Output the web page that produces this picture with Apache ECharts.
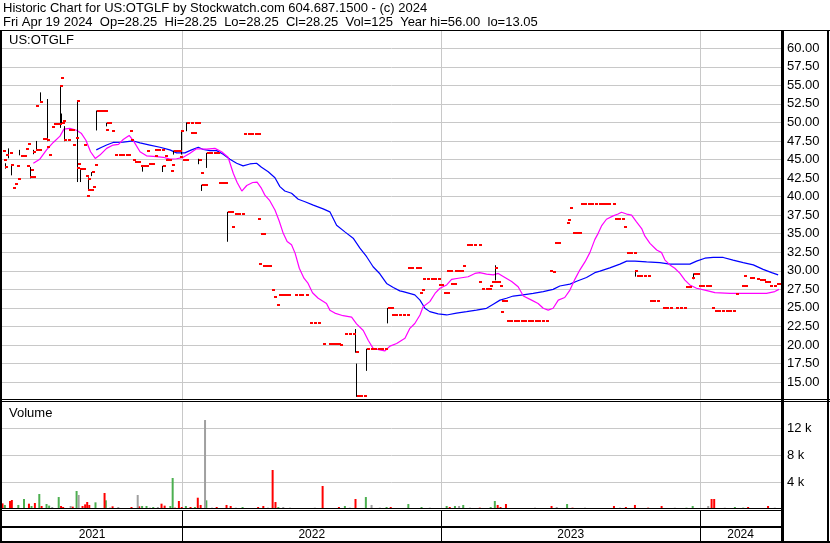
<!DOCTYPE html>
<html><head><meta charset="utf-8">
<script src="https://cdn.jsdelivr.net/npm/echarts@6/dist/echarts.min.js"></script>
<style>html,body{margin:0;padding:0;background:#fff}#c{width:830px;height:543px}</style>
</head><body><div id="c"></div>
<script>
// ---------- texts ----------
const titleLine1 = 'Historic Chart for US:OTGLF by Stockwatch.com 604.687.1500 - (c) 2024';
const titleLine2 = 'Fri Apr 19 2024  Op=28.25  Hi=28.25  Lo=28.25  Cl=28.25  Vol=125  Year hi=56.00  lo=13.05';
const symbolLabel = 'US:OTGLF';
const volumeLabel = 'Volume';
// ---------- axes (x in decimal years) ----------
const yearLabels = ['2021', '2022', '2023', '2024'];
const yearStarts = [2021, 2022, 2023, 2024];
const xStart = 2021.304, xEnd = 2024.312;
const priceTicks = [15, 17.5, 20, 22.5, 25, 27.5, 30, 32.5, 35, 37.5, 40, 42.5, 45, 47.5, 50, 52.5, 55, 57.5, 60];
const priceMin = 12.59, priceMax = 62.32;
const volumeTicks = [4, 8, 12]; // thousands
const volumeMax = 15.91;
// ---------- daily closes [year, close] ----------
const closes = [
[2021.306,46.15],[2021.311,44.9],[2021.315,44.0],[2021.321,45.65],[2021.333,45.9],[2021.340,44.25],[2021.348,41.1],[2021.354,41.7],
[2021.362,44.1],[2021.367,42.4],[2021.377,45.5],[2021.389,45.5],[2021.396,46.45],[2021.400,44.1],[2021.404,47.1],[2021.414,42.6],
[2021.416,43.6],[2021.423,42.6],[2021.425,46.05],[2021.435,52.25],[2021.437,46.3],[2021.447,46.3],[2021.452,52.8],[2021.462,47.75],
[2021.470,47.75],[2021.477,46.7],[2021.479,47.6],[2021.487,45.65],[2021.496,49.4],[2021.503,49.75],[2021.514,49.75],[2021.524,49.75],
[2021.528,54.95],[2021.530,56.0],[2021.535,49.95],[2021.541,50.2],[2021.545,47.6],[2021.557,47.6],[2021.564,48.95],[2021.576,48.95],
[2021.580,47.0],[2021.589,47.95],[2021.592,43.9],[2021.595,52.9],[2021.599,44.4],[2021.607,43.75],[2021.616,43.75],[2021.620,47.0],
[2021.628,42.8],[2021.632,40.1],[2021.636,42.4],[2021.638,40.9],[2021.647,40.9],[2021.650,43.3],[2021.657,41.35],[2021.665,44.25],
[2021.670,51.6],[2021.682,51.6],[2021.694,51.6],[2021.703,51.6],[2021.705,48.95],[2021.709,49.95],[2021.719,49.95],[2021.728,48.85],
[2021.740,45.65],[2021.754,45.65],[2021.767,45.65],[2021.781,45.65],[2021.792,45.65],[2021.797,48.85],[2021.802,47.6],[2021.810,45.0],
[2021.819,44.7],[2021.831,44.7],[2021.840,44.1],[2021.852,44.1],[2021.860,44.1],[2021.865,46.2],[2021.873,44.4],[2021.885,44.4],
[2021.894,45.5],[2021.896,46.3],[2021.908,46.3],[2021.920,46.3],[2021.925,44.15],[2021.932,45.5],[2021.939,44.9],[2021.950,44.9],
[2021.956,43.5],[2021.960,44.25],[2021.967,46.2],[2021.977,46.2],[2021.986,46.2],[2021.991,45.3],[2021.997,48.9],[2022.003,44.9],
[2022.014,44.9],[2022.018,49.95],[2022.032,49.95],[2022.035,48.6],[2022.047,48.6],[2022.051,49.95],[2022.062,49.95],[2022.064,44.9],
[2022.071,43.15],[2022.076,41.6],[2022.087,41.6],[2022.095,45.9],[2022.107,45.9],[2022.122,45.9],[2022.134,45.9],[2022.140,41.9],
[2022.153,41.9],[2022.165,41.9],[2022.176,37.95],[2022.188,37.95],[2022.194,35.9],[2022.203,37.65],[2022.217,37.65],[2022.230,37.65],
[2022.240,48.5],[2022.254,48.5],[2022.267,48.5],[2022.281,48.5],[2022.292,48.5],[2022.293,37.0],[2022.297,30.9],[2022.304,34.95],
[2022.313,34.95],[2022.313,30.65],[2022.325,30.65],[2022.335,30.65],[2022.346,27.4],[2022.354,26.5],[2022.367,25.45],[2022.375,26.8],
[2022.387,26.8],[2022.398,26.8],[2022.408,26.8],[2022.435,26.8],[2022.449,26.8],[2022.460,26.8],[2022.478,26.8],[2022.493,23.0],
[2022.508,23.0],[2022.526,23.0],[2022.543,20.2],[2022.568,20.2],[2022.580,20.2],[2022.591,20.2],[2022.601,20.2],[2022.609,20.0],
[2022.630,21.5],[2022.642,21.5],[2022.659,21.5],[2022.669,19.1],[2022.674,13.15],[2022.688,13.15],[2022.701,13.15],[2022.713,19.5],
[2022.727,19.5],[2022.740,19.5],[2022.754,19.5],[2022.767,19.5],[2022.781,19.5],[2022.794,25.0],[2022.806,25.0],[2022.809,24.1],
[2022.823,24.1],[2022.836,24.1],[2022.852,24.1],[2022.866,24.1],[2022.873,30.4],[2022.885,30.4],[2022.904,30.4],[2022.916,30.4],
[2022.918,27.05],[2022.924,27.4],[2022.931,28.9],[2022.945,28.9],[2022.960,28.9],[2022.974,28.9],[2022.987,28.9],[2022.991,28.15],
[2023.001,28.15],[2023.010,27.05],[2023.024,27.05],[2023.024,30.0],[2023.035,30.0],[2023.037,28.2],[2023.049,28.2],[2023.055,30.0],
[2023.066,30.0],[2023.076,30.0],[2023.084,30.65],[2023.099,33.5],[2023.113,33.5],[2023.128,33.5],[2023.144,33.5],[2023.147,28.55],
[2023.159,27.55],[2023.173,27.55],[2023.184,27.55],[2023.189,27.95],[2023.196,28.55],[2023.207,28.55],[2023.209,30.4],[2023.219,28.55],
[2023.227,27.95],[2023.230,24.5],[2023.234,25.95],[2023.246,25.95],[2023.254,23.3],[2023.267,23.3],[2023.281,23.3],[2023.294,23.3],
[2023.308,23.3],[2023.321,23.3],[2023.335,23.3],[2023.348,23.3],[2023.362,23.3],[2023.375,23.3],[2023.389,23.3],[2023.404,23.3],
[2023.420,29.95],[2023.431,29.8],[2023.439,33.8],[2023.452,33.8],[2023.487,36.45],[2023.491,36.8],[2023.499,38.5],[2023.508,35.05],
[2023.522,35.05],[2023.533,35.05],[2023.539,39.0],[2023.553,39.0],[2023.566,39.0],[2023.580,39.0],[2023.593,39.0],[2023.609,39.0],
[2023.622,39.0],[2023.632,39.0],[2023.645,39.0],[2023.663,39.0],[2023.670,36.95],[2023.684,36.95],[2023.697,36.95],[2023.705,35.95],
[2023.717,32.45],[2023.730,32.45],[2023.744,32.45],[2023.749,30.0],[2023.755,29.35],[2023.769,29.35],[2023.783,29.35],[2023.798,29.35],
[2023.806,25.95],[2023.819,25.95],[2023.833,25.95],[2023.856,25.0],[2023.869,25.0],[2023.885,25.0],[2023.906,25.0],[2023.921,25.0],
[2023.937,25.0],[2023.945,27.85],[2023.958,27.85],[2023.969,29.05],[2023.977,29.6],[2023.989,29.6],[2023.995,27.95],[2024.008,27.95],
[2024.022,27.95],[2024.035,27.95],[2024.045,25.0],[2024.057,24.6],[2024.070,24.6],[2024.084,24.6],[2024.099,24.6],[2024.113,24.6],
[2024.128,24.6],[2024.140,26.85],[2024.161,27.95],[2024.171,29.3],[2024.173,27.95],[2024.192,29.0],[2024.201,29.0],[2024.219,28.9],
[2024.230,28.7],[2024.242,28.7],[2024.250,28.5],[2024.261,28.5],[2024.271,27.95],[2024.284,27.95],[2024.296,28.25],[2024.306,28.25]
];
// ---------- daily ranges [year, low, high] ----------
const ranges = [
[2021.315,43.9,44.5],[2021.328,45.3,46.5],[2021.338,43.0,44.25],[2021.371,45.7,46.3],[2021.413,42.6,44.0],[2021.425,45.85,46.3],
[2021.435,46.3,47.5],[2021.452,52.8,54.05],[2021.479,47.6,53.15],[2021.527,49.4,54.95],[2021.533,49.95,51.2],[2021.544,47.6,49.5],
[2021.594,42.1,52.9],[2021.606,42.1,43.75],[2021.635,40.9,42.6],[2021.649,42.9,43.3],[2021.668,49.05,51.6],[2021.706,49.6,49.95],
[2021.845,43.5,44.1],[2021.923,43.45,44.15],[2021.965,45.8,46.2],[2021.996,45.8,48.9],[2022.015,48.95,50.0],[2022.062,44.5,45.1],
[2022.073,40.9,41.6],[2022.093,44.0,45.9],[2022.174,34.05,37.95],[2022.668,19.1,22.15],[2022.672,13.15,17.5],[2022.710,16.65,19.5],
[2022.791,23.05,25.0],[2023.208,28.85,30.75],[2023.749,29.35,30.0],[2023.973,29.0,29.65]
];
// ---------- moving averages [year, value] ----------
const maFast = [
[2021.425,44.5],[2021.450,45.05],[2021.476,46.3],[2021.502,47.3],[2021.528,48.15],[2021.543,49.1],[2021.566,49.2],[2021.592,48.95],
[2021.611,48.5],[2021.628,47.6],[2021.646,46.05],[2021.664,45.15],[2021.682,45.6],[2021.708,46.5],[2021.733,46.95],[2021.754,47.05],
[2021.772,47.7],[2021.795,48.25],[2021.811,47.55],[2021.837,46.05],[2021.862,45.5],[2021.901,45.4],[2021.927,45.3],[2021.952,45.05],
[2021.978,45.1],[2022.004,45.3],[2022.030,45.85],[2022.055,46.45],[2022.094,46.4],[2022.126,46.5],[2022.152,46.05],[2022.177,45.3],
[2022.197,43.15],[2022.212,41.9],[2022.230,40.75],[2022.249,41.5],[2022.272,41.9],[2022.289,41.95],[2022.306,41.1],[2022.319,40.2],
[2022.338,39.45],[2022.358,38.2],[2022.374,36.75],[2022.390,35.05],[2022.405,33.95],[2022.422,33.5],[2022.436,32.35],[2022.452,30.35],
[2022.470,29.0],[2022.486,28.3],[2022.503,27.05],[2022.525,26.3],[2022.557,25.6],[2022.570,24.7],[2022.589,24.3],[2022.621,23.95],
[2022.654,23.75],[2022.673,22.85],[2022.699,21.95],[2022.718,20.65],[2022.737,19.55],[2022.763,19.35],[2022.782,19.2],[2022.802,19.85],
[2022.828,20.2],[2022.860,20.9],[2022.879,22.25],[2022.898,22.9],[2022.918,24.05],[2022.930,25.15],[2022.956,25.85],[2022.976,26.95],
[2022.995,27.65],[2023.021,28.1],[2023.040,28.85],[2023.066,29.0],[2023.104,29.2],[2023.130,29.65],[2023.149,29.75],[2023.175,29.55],
[2023.201,29.45],[2023.220,29.65],[2023.246,29.1],[2023.272,28.55],[2023.297,27.85],[2023.317,26.6],[2023.349,26.05],[2023.374,25.6],
[2023.394,24.95],[2023.413,24.7],[2023.432,24.95],[2023.452,26.05],[2023.477,26.4],[2023.497,27.4],[2023.516,28.85],[2023.535,30.1],
[2023.555,31.2],[2023.574,32.45],[2023.593,34.2],[2023.606,35.05],[2023.619,36.05],[2023.638,36.95],[2023.664,37.4],[2023.683,37.65],
[2023.696,37.9],[2023.716,37.65],[2023.735,37.5],[2023.754,36.6],[2023.774,35.7],[2023.786,34.7],[2023.806,33.7],[2023.832,32.8],
[2023.851,32.45],[2023.864,31.45],[2023.883,30.8],[2023.902,30.35],[2023.922,29.65],[2023.941,28.75],[2023.960,28.1],[2023.986,27.65],
[2024.018,27.4],[2024.057,27.05],[2024.115,26.95],[2024.179,26.95],[2024.256,26.95],[2024.288,27.2],[2024.304,27.5]
];
const maSlow = [
[2021.668,46.3],[2021.689,46.65],[2021.708,46.95],[2021.733,47.3],[2021.772,47.35],[2021.811,47.5],[2021.837,47.25],[2021.875,46.95],
[2021.914,46.65],[2021.952,46.3],[2021.978,45.9],[2022.010,45.9],[2022.036,46.3],[2022.062,46.65],[2022.081,46.35],[2022.107,46.2],
[2022.133,46.2],[2022.158,45.7],[2022.184,45.05],[2022.210,44.5],[2022.235,44.15],[2022.261,44.4],[2022.287,44.5],[2022.306,43.95],
[2022.332,43.35],[2022.358,42.55],[2022.377,41.35],[2022.396,40.75],[2022.422,40.45],[2022.448,39.65],[2022.474,39.3],[2022.506,38.85],
[2022.544,38.35],[2022.570,37.95],[2022.596,36.15],[2022.628,35.25],[2022.660,34.4],[2022.686,33.05],[2022.712,31.9],[2022.737,30.55],
[2022.763,29.6],[2022.789,28.3],[2022.815,27.75],[2022.840,27.3],[2022.853,27.2],[2022.898,26.75],[2022.918,26.05],[2022.937,24.95],
[2022.956,24.5],[2022.988,24.2],[2023.021,24.05],[2023.059,24.3],[2023.098,24.5],[2023.136,24.7],[2023.175,24.95],[2023.201,25.5],
[2023.227,26.05],[2023.252,26.3],[2023.278,26.6],[2023.316,26.75],[2023.355,26.95],[2023.394,27.2],[2023.432,27.5],[2023.458,27.95],
[2023.497,28.2],[2023.523,28.6],[2023.561,29.1],[2023.593,29.75],[2023.613,29.95],[2023.651,30.4],[2023.690,30.9],[2023.716,31.3],
[2023.748,31.3],[2023.793,31.2],[2023.844,31.1],[2023.883,30.9],[2023.960,30.9],[2023.986,31.3],[2024.018,31.7],[2024.050,31.8],
[2024.089,31.8],[2024.127,31.45],[2024.166,31.1],[2024.205,30.8],[2024.243,30.2],[2024.276,29.75],[2024.301,29.45]
];
// ---------- volume [year, thousands of shares] ----------
const volUp = [
[2021.315,0.6],[2021.367,0.6],[2021.389,1.49],[2021.418,0.45],[2021.448,2.23],[2021.476,0.74],[2021.486,0.5],[2021.523,1.78],
[2021.592,2.68],[2021.665,0.99],[2021.705,1.29],[2021.845,0.45],[2021.862,0.45],[2021.888,0.3],[2021.954,0.45],[2021.963,4.61],
[2022.014,0.45],[2022.049,0.3],[2022.093,1.29],[2022.233,0.3],[2022.371,0.3],[2022.628,0.45],[2022.709,1.78],[2022.789,0.3],
[2022.873,0.74],[2022.924,0.3],[2023.021,0.45],[2023.053,0.45],[2023.085,0.6],[2023.191,0.3],[2023.207,1.19],[2023.486,0.74],
[2023.947,0.2],[2023.971,0.45],[2024.134,0.3],[2024.166,0.2]
];
const volDown = [
[2021.306,0.84],[2021.335,1.19],[2021.342,1.34],[2021.408,0.79],[2021.431,0.89],[2021.457,0.45],[2021.532,0.45],[2021.540,0.3],
[2021.577,0.35],[2021.615,0.45],[2021.625,0.69],[2021.633,1.04],[2021.641,0.6],[2021.700,2.38],[2021.731,0.4],[2021.804,0.3],
[2021.834,0.4],[2021.920,0.79],[2021.932,0.5],[2021.972,0.2],[2021.987,1.19],[2021.998,0.3],[2022.032,0.3],[2022.060,1.68],
[2022.071,0.6],[2022.133,0.3],[2022.171,0.6],[2022.187,0.45],[2022.293,0.3],[2022.313,0.45],[2022.349,5.8],[2022.360,1.04],
[2022.486,0.1],[2022.542,3.42],[2022.605,0.3],[2022.669,1.49],[2022.805,0.3],[2022.911,0.1],[2023.033,0.3],[2023.149,0.2],
[2023.218,0.6],[2023.229,0.3],[2023.250,0.74],[2023.426,0.45],[2023.507,0.2],[2023.667,0.45],[2023.713,0.3],[2023.748,0.6],
[2023.799,0.2],[2023.851,0.45],[2024.044,1.49],[2024.054,1.49],[2024.185,0.3],[2024.218,0.1],[2024.262,0.45]
];
const volFlat = [
[2021.498,0.3],[2021.569,0.45],[2021.600,2.08],[2021.721,0.2],[2021.753,0.3],[2021.779,0.15],[2021.828,2.08],[2021.875,0.2],
[2021.906,0.3],[2021.945,0.15],[2022.088,13.23],[2022.115,0.2],[2022.153,0.15],[2022.207,0.2],[2022.261,0.15],[2022.331,0.2],
[2022.390,0.3],[2022.416,0.2],[2022.454,0.15],[2022.512,0.2],[2022.570,0.15],[2022.647,0.2],[2022.694,0.15],[2022.731,0.6],
[2022.763,0.2],[2022.833,0.15],[2022.956,0.2],[2023.069,0.45],[2023.111,0.2],[2023.304,0.15],[2023.362,0.2],[2023.400,0.15],
[2023.446,0.3],[2023.555,0.2],[2023.613,0.15],[2023.690,0.2],[2023.825,0.15],[2023.902,0.2],[2023.999,0.15],[2024.031,0.45],
[2024.095,0.2],[2024.230,0.15],[2024.288,0.2]
];

// ---------- chart ----------
const FONT = '"Liberation Sans", Arial, sans-serif';
const GRID = '#c8c8c8';
const labelPos = yearStarts.map(y => (Math.max(y, xStart) + Math.min(y + 1, xEnd)) / 2);
const boundaries = yearStarts.filter(y => y > xStart && y < xEnd);

const chart = echarts.init(document.getElementById('c'), null, {renderer: 'canvas'});
const hiddenX = (gi, color) => ({
  gridIndex: gi, type: 'value', min: xStart, max: xEnd,
  axisLine: {show: false}, axisTick: {show: false, customValues: boundaries},
  axisLabel: {show: false}, splitLine: {show: true, lineStyle: {color: color, width: 1}}
});
const option = {
  animation: false,
  backgroundColor: '#fff',
  textStyle: {fontFamily: FONT},
  grid: [
    {left: 2, right: 49, top: 31, height: 369},
    {left: 2, right: 49, top: 402, height: 107},
    {left: 2, right: 49, top: 510, height: 32}
  ],
  xAxis: [
    hiddenX(0, GRID),
    hiddenX(1, GRID),
    Object.assign(hiddenX(2, '#000'), {
      axisLabel: {show: true, inside: true, margin: 1, customValues: labelPos,
        formatter: v => yearLabels[yearStarts.indexOf(Math.floor(v))],
        fontSize: 12, color: '#000', fontFamily: FONT}
    })
  ],
  yAxis: [
    {gridIndex: 0, type: 'value', position: 'right', min: priceMin, max: priceMax,
      axisLine: {show: false}, axisTick: {show: false, customValues: priceTicks},
      axisLabel: {customValues: priceTicks, formatter: v => v.toFixed(2), margin: 6,
        fontSize: 13, color: '#000', fontFamily: FONT, align: 'left'},
      splitLine: {show: true, lineStyle: {color: GRID, width: 1}}},
    {gridIndex: 1, type: 'value', position: 'right', min: 0, max: volumeMax,
      axisLine: {show: false}, axisTick: {show: false, customValues: volumeTicks},
      axisLabel: {customValues: volumeTicks, formatter: v => v + ' k', margin: 6,
        fontSize: 13, color: '#000', fontFamily: FONT, align: 'left'},
      splitLine: {show: true, lineStyle: {color: GRID, width: 1}}},
    {gridIndex: 2, type: 'value', show: false, min: 0, max: 1}
  ],
  series: [
    {type: 'bar', name: 'up', xAxisIndex: 1, yAxisIndex: 1, data: volUp, barWidth: 2, barGap: '-100%',
      itemStyle: {color: '#4caf50'}, silent: true},
    {type: 'bar', name: 'down', xAxisIndex: 1, yAxisIndex: 1, data: volDown, barWidth: 2, barGap: '-100%',
      itemStyle: {color: '#ff0000'}, silent: true},
    {type: 'bar', name: 'flat', xAxisIndex: 1, yAxisIndex: 1, data: volFlat, barWidth: 2, barGap: '-100%',
      itemStyle: {color: '#a0a0a0'}, silent: true},
    {type: 'line', name: 'slow', xAxisIndex: 0, yAxisIndex: 0, data: maSlow, showSymbol: false,
      lineStyle: {color: '#0000ff', width: 1.2}, silent: true, z: 3},
    {type: 'line', name: 'fast', xAxisIndex: 0, yAxisIndex: 0, data: maFast, showSymbol: false,
      lineStyle: {color: '#ff00ff', width: 1.2}, silent: true, z: 3},
    {type: 'custom', name: 'range', xAxisIndex: 0, yAxisIndex: 0, data: ranges, z: 4,
      encode: {x: 0, y: [1, 2]},
      renderItem: (params, api) => {
        const a = api.coord([api.value(0), api.value(1)]);
        const b = api.coord([api.value(0), api.value(2)]);
        const x = Math.round(a[0]) + 0.5;
        return {type: 'line', shape: {x1: x, y1: a[1] + 1, x2: x, y2: b[1]}, style: {stroke: '#000', lineWidth: 1}};
      }},
    {type: 'custom', name: 'close', xAxisIndex: 0, yAxisIndex: 0, data: closes, z: 5,
      encode: {x: 0, y: 1},
      renderItem: (params, api) => {
        const p = api.coord([api.value(0), api.value(1)]);
        return {type: 'rect', shape: {x: Math.round(p[0]), y: Math.round(p[1]) - 1, width: 3, height: 2},
          style: {fill: '#ff0000'}};
      }}
  ],
  graphic: [
    {type: 'text', x: 3, y: 2, style: {text: titleLine1, font: '13px ' + FONT, fill: '#000'}},
    {type: 'text', x: 3, y: 16, style: {text: titleLine2, font: '13px ' + FONT, fill: '#000'}},
    {type: 'text', x: 9, y: 34, style: {text: symbolLabel, font: '13px ' + FONT, fill: '#000'}, z: 10},
    {type: 'text', x: 9, y: 407, style: {text: volumeLabel, font: '13px ' + FONT, fill: '#000'}, z: 10},
    // frame lines
    {type: 'rect', shape: {x: 0, y: 30, width: 830, height: 1}, style: {fill: '#000'}, z: 20},
    {type: 'rect', shape: {x: 0, y: 399, width: 830, height: 1}, style: {fill: '#000'}, z: 20},
    {type: 'rect', shape: {x: 0, y: 401, width: 830, height: 1}, style: {fill: '#000'}, z: 20},
    {type: 'rect', shape: {x: 0, y: 508, width: 781, height: 1}, style: {fill: '#000'}, z: 20},
    {type: 'rect', shape: {x: 0, y: 510, width: 781, height: 1}, style: {fill: '#000'}, z: 20},
    {type: 'rect', shape: {x: 0, y: 526, width: 781, height: 2}, style: {fill: '#000'}, z: 20},
    {type: 'rect', shape: {x: 0, y: 541, width: 830, height: 2}, style: {fill: '#000'}, z: 20},
    {type: 'rect', shape: {x: 0, y: 30, width: 2, height: 513}, style: {fill: '#000'}, z: 20},
    {type: 'rect', shape: {x: 781, y: 30, width: 3, height: 513}, style: {fill: '#000'}, z: 20},
    {type: 'rect', shape: {x: 827, y: 30, width: 2, height: 513}, style: {fill: '#000'}, z: 20}
  ]
};
chart.setOption(option);
</script>
</body></html>
